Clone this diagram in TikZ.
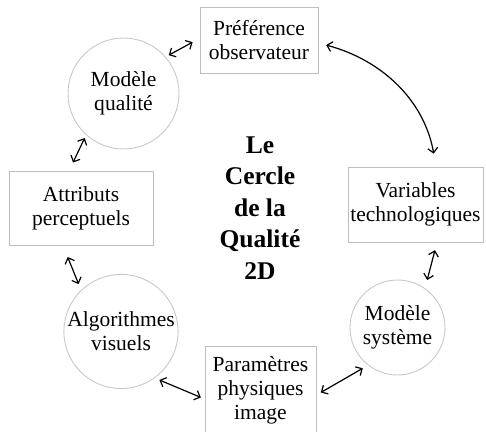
\documentclass[tikz,border=0pt]{standalone}
\usepackage{fontspec}
\setmainfont{Liberation Serif}
\usetikzlibrary{arrows.meta}
\definecolor{boxgray}{RGB}{190,190,190}
\definecolor{circgray}{RGB}{200,200,200}
\begin{document}
\begin{tikzpicture}[x=1pt,y=1pt,
  lbl/.style={align=center, inner sep=0pt, font=\fontsize{21.5}{24}\selectfont},
  box/.style={lbl, draw=boxgray, line width=0.9pt, rectangle},
  circ/.style={lbl, draw=circgray, line width=0.9pt, circle},
  title/.style={align=center, inner sep=0pt, font=\bfseries\fontsize{25.5}{31.5}\selectfont},
  link/.style={line width=1.2pt, {Straight Barb[length=5pt,width=10pt]}-{Straight Barb[length=5pt,width=10pt]}}
]
\useasboundingbox (0,0) rectangle (486,431);
\clip (0,0) rectangle (486,431);
\node[box, minimum width=118pt, minimum height=66pt] (pref) at (259,391) {Préférence\\observateur};
\node[circ, minimum size=111pt] (mq) at (123.5,337.5) {Modèle\\qualité};
\node[box, minimum width=144pt, minimum height=74pt] (attr) at (81,223) {Attributs\\perceptuels};
\node[circ, minimum size=114pt] (algo) at (121,99.5) {Algorithmes\\visuels};
\node[box, minimum width=111pt, minimum height=88pt] (param) at (260.5,41) {Paramètres\\physiques\\image};
\node[circ, minimum size=95pt] (ms) at (397.5,103.5) {Modèle\\système};
\node[box, minimum width=135pt, minimum height=75pt] (var) at (415.5,226.5) {Variables\\technologiques};
\node[title] (t) at (260,223) {Le\\Cercle\\de la\\Qualité\\2D};

\draw[link, shorten <=3.4pt, shorten >=7.9pt] (mq.41.6) -- ([yshift=1.6pt]pref.west);
\draw[link, shorten <=3.3pt, shorten >=8.9pt] (mq.228.2) -- ([xshift=-11.8pt]attr.north);
\draw[link, shorten <=12.5pt, shorten >=6.5pt] ([xshift=-18pt]attr.south) -- (algo.134);
\draw[link, shorten <=5pt, shorten >=4pt] (algo.-54.5) -- ([yshift=-9pt]param.west);
\draw[link, shorten <=5pt, shorten >=6pt] ([yshift=-5pt]param.east) -- (ms.232.6);
\draw[link, shorten <=8pt, shorten >=8.5pt] ([xshift=21.5pt]var.south) -- (ms.55);
\draw[link, shorten <=8pt, shorten >=13pt] ([yshift=-3pt]pref.east) to[out=-15,in=100] ([xshift=20.5pt]var.north);
\end{tikzpicture}
\end{document}
